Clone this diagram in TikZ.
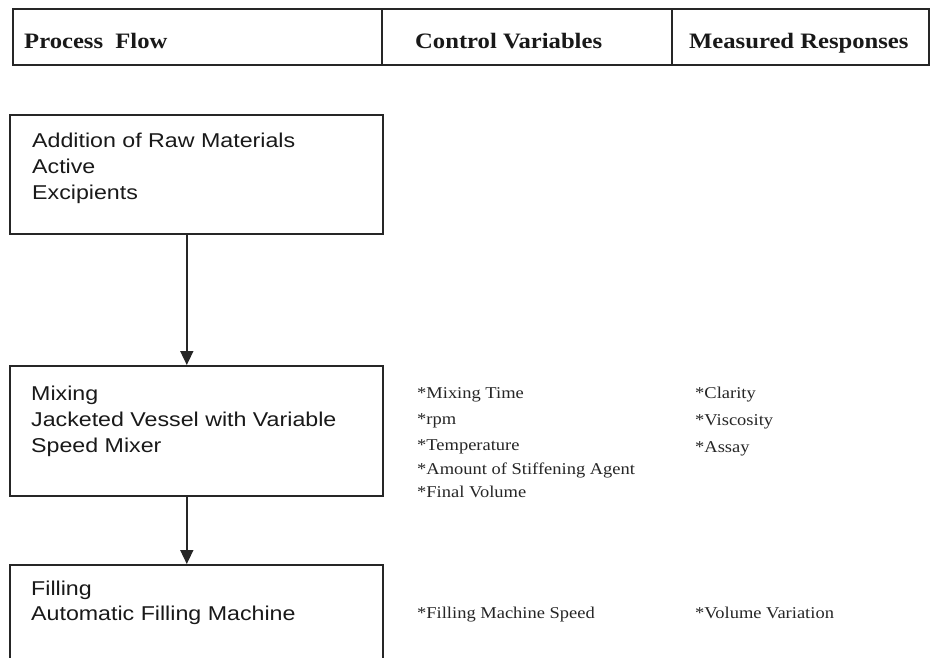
\documentclass[tikz,border=0pt]{standalone}
\usepackage{fontspec}
\setmainfont{Liberation Serif}[FakeStretch=1.12]
\newfontfamily\arialf{Liberation Sans}[FakeStretch=1.16]
\usetikzlibrary{arrows.meta}
\tikzset{
  frame/.style={draw=black!85, line width=1.6pt},
  procbox/.style={frame, anchor=north west, inner sep=0pt, minimum width=373pt},
  headtxt/.style={anchor=base west, inner sep=0pt, font=\fontsize{22}{24}\selectfont\bfseries, text=black!90},
  boxtxt/.style={anchor=base west, inner sep=0pt, font=\arialf\fontsize{20}{22}\selectfont, text=black!90},
  vartxt/.style={anchor=base west, inner sep=0pt, font=\fontsize{16.5}{18}\selectfont, text=black!85},
  arr/.style={draw=black!85, line width=1.6pt, -{Triangle[length=14pt,width=13pt]}},
}
\begin{document}
\begin{tikzpicture}[x=1pt,y=-1pt]
\clip (0,0) rectangle (930,657);
\fill[white] (0,0) rectangle (930,657);
% header
\node[frame, anchor=north west, inner sep=0pt, minimum width=916pt, minimum height=56pt] (hdr) at (12,8) {};
\coordinate (d1t) at (382,8); \coordinate (d1b) at (382,64);
\coordinate (d2t) at (672,8); \coordinate (d2b) at (672,64);
\draw[frame] (d1t) -- (d1b);
\draw[frame] (d2t) -- (d2b);
\node[headtxt] (h1) at (24,48) {Process\ \ Flow};
\node[headtxt] (h2) at (415,48) {Control Variables};
\node[headtxt] (h3) at (689,48) {Measured Responses};
% boxes
\node[procbox, minimum height=119pt] (b1) at (9,114) {};
\node[procbox, minimum height=130pt] (b2) at (9,365) {};
\node[procbox, minimum height=140pt] (b3) at (9,564) {};
\node[boxtxt] (t11) at (32,147) {Addition of Raw Materials};
\node[boxtxt] (t12) at (32,173) {Active};
\node[boxtxt] (t13) at (32,199) {Excipients};
\node[boxtxt] (t21) at (31,400) {Mixing};
\node[boxtxt] (t22) at (31,426) {Jacketed Vessel with Variable};
\node[boxtxt] (t23) at (31,452) {Speed Mixer};
\node[boxtxt] (t31) at (31,595) {Filling};
\node[boxtxt] (t32) at (31,620) {Automatic Filling Machine};
% arrows
\draw[arr] ([xshift=-9.5pt]b1.south) -- ([xshift=-9.5pt]b2.north);
\draw[arr] ([xshift=-9.5pt]b2.south) -- ([xshift=-9.5pt]b3.north);
% control variables
\node[vartxt] (c1) at (417,398) {*Mixing Time};
\node[vartxt] (c2) at (417,424) {*rpm};
\node[vartxt] (c3) at (417,450) {*Temperature};
\node[vartxt] (c4) at (417,474) {*Amount of Stiffening Agent};
\node[vartxt] (c5) at (417,497) {*Final Volume};
\node[vartxt] (c6) at (417,618) {*Filling Machine Speed};
% measured responses
\node[vartxt] (m1) at (695,398) {*Clarity};
\node[vartxt] (m2) at (695,425) {*Viscosity};
\node[vartxt] (m3) at (695,452) {*Assay};
\node[vartxt] (m4) at (695,618) {*Volume Variation};
\end{tikzpicture}
\end{document}
